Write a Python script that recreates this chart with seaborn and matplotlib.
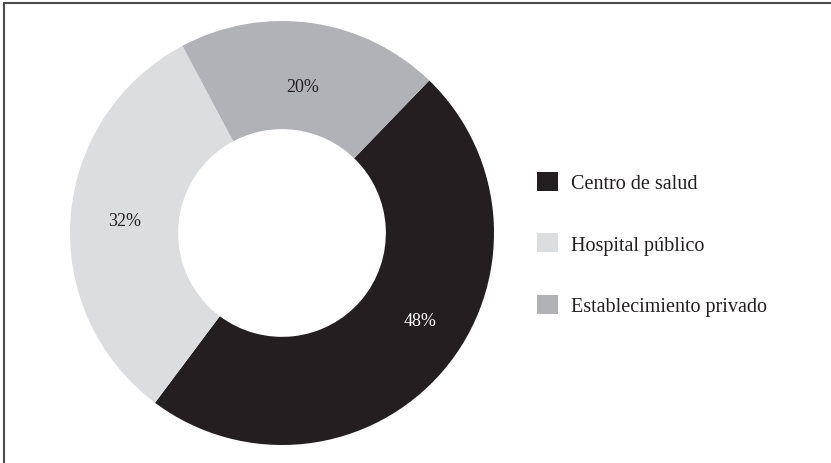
import matplotlib
matplotlib.use("Agg")
import numpy as np
import matplotlib.pyplot as plt
from matplotlib.lines import Line2D
import seaborn as sns

# Tipo de establecimiento de atención
categories = ["Centro de salud", "Hospital público", "Establecimiento privado"]
shares = [48, 32, 20]
colors = ["#231f20", "#dcdddf", "#b1b2b5"]
pct_text_colors = ["white", "#231f20", "#231f20"]
# giro (grados) y distancia relativa de cada etiqueta porcentual
pct_rotation = [8, 0, 0]
pct_radius = [0.77, 0.745, 0.70]

sns.set_theme(style="white")
plt.rcParams["font.family"] = ["Liberation Serif", "DejaVu Serif"]

fig = plt.figure(figsize=(8.31, 4.64), dpi=100)
W, H = 831, 464
cx, cy, r = 282, 234, 212  # centro (desde arriba) y radio en píxeles
ax = fig.add_axes([(cx - r) / W, (H - cy - r) / H, 2 * r / W, 2 * r / H])

wedges, texts, autotexts = ax.pie(
    shares,
    colors=sns.color_palette(colors),
    startangle=46,
    counterclock=False,
    radius=1.0,
    autopct="%d%%",
    pctdistance=0.74,
    wedgeprops=dict(width=0.51, edgecolor="none", antialiased=True),
    textprops=dict(fontsize=13),
)
for t, c, rot, rad in zip(autotexts, pct_text_colors, pct_rotation, pct_radius):
    t.set_color(c)
    x, y = t.get_position()
    ang = np.arctan2(y, x) + np.deg2rad(rot)
    t.set_position((rad * np.cos(ang), rad * np.sin(ang)))
ax.set_xlim(-1, 1)
ax.set_ylim(-1, 1)
ax.set_aspect("equal")
ax.axis("off")

leg = fig.legend(
    wedges,
    categories,
    loc="center left",
    bbox_to_anchor=(519 / W, 1 - 245 / H),
    frameon=False,
    fontsize=14.5,
    handlelength=1.05,
    handleheight=1.05,
    handletextpad=0.65,
    labelspacing=2.0,
)
for txt in leg.get_texts():
    txt.set_color("#231f20")

# Marco superior e izquierdo
fig.add_artist(Line2D([4 / W, 1], [1 - 4 / H, 1 - 4 / H], color="#4a4a4a", lw=1.5))
fig.add_artist(Line2D([4 / W, 4 / W], [0, 1 - 4 / H], color="#4a4a4a", lw=1.5))

fig.savefig("out.png", dpi=100, facecolor="white")
